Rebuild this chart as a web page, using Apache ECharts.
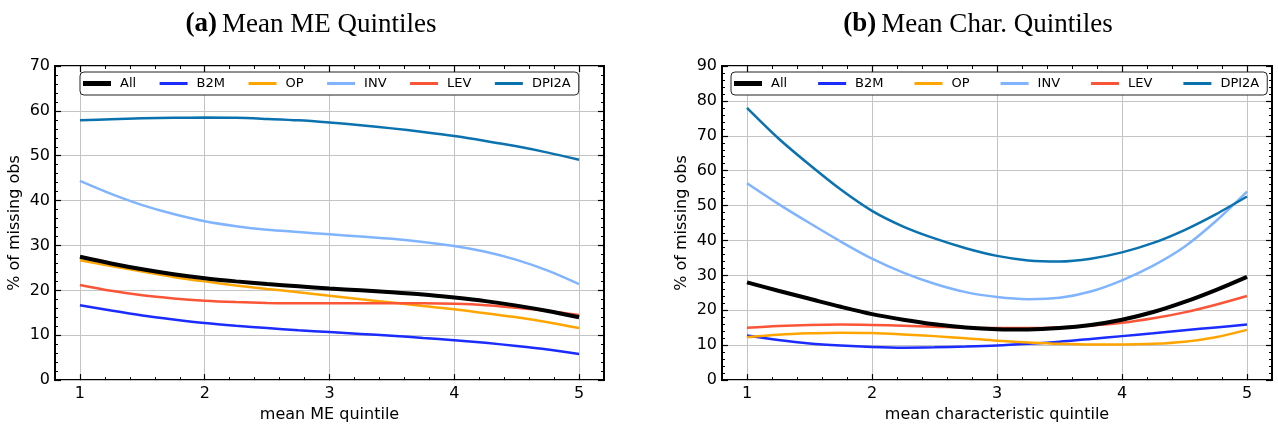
<!DOCTYPE html>
<html><head><meta charset="utf-8">
<script src="https://cdn.jsdelivr.net/npm/echarts@6/dist/echarts.min.js"></script>
<style>html,body{margin:0;padding:0;background:#fff}#c{width:1278px;height:428px}</style>
</head><body><div id="c"></div>
<script>
// ---- data ----
const xQuintiles = [1, 1.25, 1.5, 1.75, 2, 2.25, 2.5, 2.75, 3, 3.25, 3.5, 3.75, 4, 4.25, 4.5, 4.75, 5];
const xTickLabels = [1, 2, 3, 4, 5];
const seriesNames = ['All', 'B2M', 'OP', 'INV', 'LEV', 'DPI2A'];
const seriesColors = ['#000000', '#1a2cff', '#ffa500', '#80b4ff', '#fa5537', '#0b72b0'];

// (a) Mean ME quintiles
const meAll   = [27.5, 26.0, 24.7, 23.6, 22.7, 22.0, 21.4, 20.9, 20.4, 20.0, 19.6, 19.1, 18.4, 17.6, 16.6, 15.4, 14.0];
const meB2M   = [16.7, 15.5, 14.4, 13.5, 12.7, 12.1, 11.6, 11.1, 10.7, 10.3, 9.9, 9.4, 8.9, 8.3, 7.6, 6.8, 5.8];
const meOP    = [26.7, 25.4, 24.2, 23.0, 22.0, 21.1, 20.3, 19.6, 18.8, 18.0, 17.3, 16.5, 15.8, 14.9, 14.0, 12.9, 11.6];
const meINV   = [44.4, 41.5, 39.0, 37.0, 35.4, 34.3, 33.5, 33.0, 32.5, 32.0, 31.5, 30.8, 29.9, 28.6, 26.8, 24.4, 21.4];
const meLEV   = [21.2, 19.9, 18.9, 18.2, 17.7, 17.4, 17.2, 17.1, 17.1, 17.1, 17.1, 17.1, 17.0, 16.7, 16.1, 15.4, 14.5];
const meDPI2A = [57.9, 58.15, 58.35, 58.45, 58.5, 58.45, 58.2, 57.9, 57.4, 56.8, 56.1, 55.3, 54.4, 53.3, 52.1, 50.7, 49.1];

// (b) Mean characteristic quintiles
const chAll   = [28.0, 25.6, 23.3, 21.0, 18.9, 17.3, 16.0, 15.1, 14.6, 14.5, 14.9, 15.8, 17.3, 19.5, 22.4, 25.8, 29.6];
const chB2M   = [12.8, 11.5, 10.5, 9.9, 9.5, 9.3, 9.4, 9.6, 9.9, 10.4, 11.0, 11.8, 12.6, 13.4, 14.3, 15.1, 15.9];
const chOP    = [12.3, 13.0, 13.4, 13.6, 13.5, 13.1, 12.6, 12.0, 11.3, 10.8, 10.4, 10.2, 10.2, 10.4, 11.0, 12.3, 14.4];
const chINV   = [56.4, 50.5, 45.0, 39.7, 34.8, 30.8, 27.6, 25.2, 23.8, 23.2, 23.6, 25.4, 28.6, 32.8, 38.2, 45.5, 54.0];
const chLEV   = [15.0, 15.5, 15.8, 15.9, 15.8, 15.6, 15.3, 15.0, 14.9, 14.9, 15.1, 15.6, 16.4, 17.7, 19.4, 21.6, 24.1];
const chDPI2A = [78.0, 69.3, 61.7, 54.6, 48.5, 44.0, 40.6, 37.8, 35.6, 34.3, 34.0, 34.8, 36.6, 39.3, 43.0, 47.5, 52.6];

const panelA = [meAll, meB2M, meOP, meINV, meLEV, meDPI2A];
const panelB = [chAll, chB2M, chOP, chINV, chLEV, chDPI2A];

// ---- chart ----
const FONT = 'DejaVu Sans';
const grids = [
  {left: 55, top: 66, width: 549, height: 318},
  {left: 722, top: 66, width: 550, height: 318}
];
const xNames = ['mean ME quintile', 'mean characteristic quintile'];
const yMax = [70, 90];

const xAxes = [], yAxes = [], series = [];
grids.forEach((g, gi) => {
  const base = {gridIndex: gi, type: 'value', min: 0.8, max: 5.2, axisLine: {show: false}, splitLine: {show: false}, axisLabel: {show: false}};
  const mainIdx = xAxes.length;
  xAxes.push(Object.assign({}, base, {
    position: 'bottom',
    axisTick: {inside: true, length: 6, customValues: xTickLabels, lineStyle: {color: '#000', width: 1.2}},
    axisLabel: {show: true, customValues: xTickLabels, fontSize: 16, color: '#000', margin: 6, fontFamily: FONT},
    splitLine: {show: true, lineStyle: {color: '#c4c4c4', width: 1}},
    name: xNames[gi], nameLocation: 'middle', nameGap: 21,
    nameTextStyle: {fontSize: 16, color: '#000', fontFamily: FONT, verticalAlign: 'top'}
  }));
  xAxes.push(Object.assign({}, base, {position: 'bottom', interval: 0.2,
    axisTick: {inside: true, length: 3, lineStyle: {color: '#000', width: 1}}}));
  xAxes.push(Object.assign({}, base, {position: 'top',
    axisTick: {inside: true, length: 6, customValues: xTickLabels, lineStyle: {color: '#000', width: 1.2}}}));
  xAxes.push(Object.assign({}, base, {position: 'top', interval: 0.2,
    axisTick: {inside: true, length: 3, lineStyle: {color: '#000', width: 1}}}));

  const yMainIdx = yAxes.length;
  yAxes.push({
    gridIndex: gi, type: 'value', min: 0, max: yMax[gi], interval: 10, position: 'left',
    axisLine: {show: false},
    axisTick: {inside: true, length: 6, lineStyle: {color: '#000', width: 1.2}},
    minorTick: {show: true, splitNumber: 5, length: 3, lineStyle: {color: '#000', width: 1}},
    axisLabel: {fontSize: 16, color: '#000', margin: 5, fontFamily: FONT},
    splitLine: {show: true, lineStyle: {color: '#c4c4c4', width: 1}},
    name: '% of missing obs', nameLocation: 'middle', nameGap: 32, nameRotate: 90,
    nameTextStyle: {fontSize: 16, color: '#000', fontFamily: FONT}
  });
  yAxes.push({
    gridIndex: gi, type: 'value', min: 0, max: yMax[gi], interval: 10, position: 'right',
    axisLine: {show: false},
    axisTick: {inside: true, length: 6, lineStyle: {color: '#000', width: 1.2}},
    minorTick: {show: true, splitNumber: 5, length: 3, lineStyle: {color: '#000', width: 1}},
    axisLabel: {show: false}, splitLine: {show: false}
  });

  const panel = gi === 0 ? panelA : panelB;
  seriesNames.forEach((nm, si) => {
    series.push({
      name: nm, type: 'line', xAxisIndex: mainIdx, yAxisIndex: yMainIdx,
      data: xQuintiles.map((x, k) => [x, panel[si][k]]),
      smooth: 0.3, symbol: 'none', showSymbol: false, silent: true,
      z: si === 0 ? 3 : 2,
      lineStyle: {color: seriesColors[si], width: si === 0 ? 4 : 2.5},
      itemStyle: {color: seriesColors[si]},
      animation: false
    });
  });
});

const legendData = seriesNames.map((nm, i) => ({
  name: nm,
  icon: i === 0 ? 'path://M0,0H28V5H0Z' : 'path://M0,0H28V3H0Z'
}));
const legendBase = {
  top: 72, itemWidth: 28, itemHeight: 12, padding: [5, 8, 5, 3],
  borderColor: '#222', borderWidth: 1, borderRadius: 4, backgroundColor: '#fff',
  textStyle: {fontSize: 13, fontFamily: FONT, color: '#000', padding: [0, 0, 0, 4]},
  data: legendData, selectedMode: false
};

const titleRich = {
  b: {fontFamily: 'Liberation Serif', fontSize: 27, fontWeight: 'bold', color: '#000'},
  n: {fontFamily: 'Liberation Serif', fontSize: 27, fontWeight: 'normal', color: '#000'}
};

const option = {
  backgroundColor: '#fff',
  animation: false,
  title: [
    {text: '{b|(a)} {n|Mean ME Quintiles}', left: 306, top: 6, textAlign: 'center',
     textStyle: {fontWeight: 'normal', rich: titleRich}},
    {text: '{b|(b)} {n|Mean Char. Quintiles}', left: 973, top: 6, textAlign: 'center',
     textStyle: {fontWeight: 'normal', rich: titleRich}}
  ],
  grid: grids.map(g => Object.assign({show: true, borderColor: '#000', borderWidth: 2, backgroundColor: 'transparent', containLabel: false}, g)),
  legend: [
    Object.assign({}, legendBase, {left: 80, itemGap: 23.5}),
    Object.assign({}, legendBase, {left: 731, itemGap: 31})
  ],
  xAxis: xAxes,
  yAxis: yAxes,
  series: series
};

const chart = echarts.init(document.getElementById('c'), null, {renderer: 'canvas'});
chart.setOption(option);
</script>
</body></html>
